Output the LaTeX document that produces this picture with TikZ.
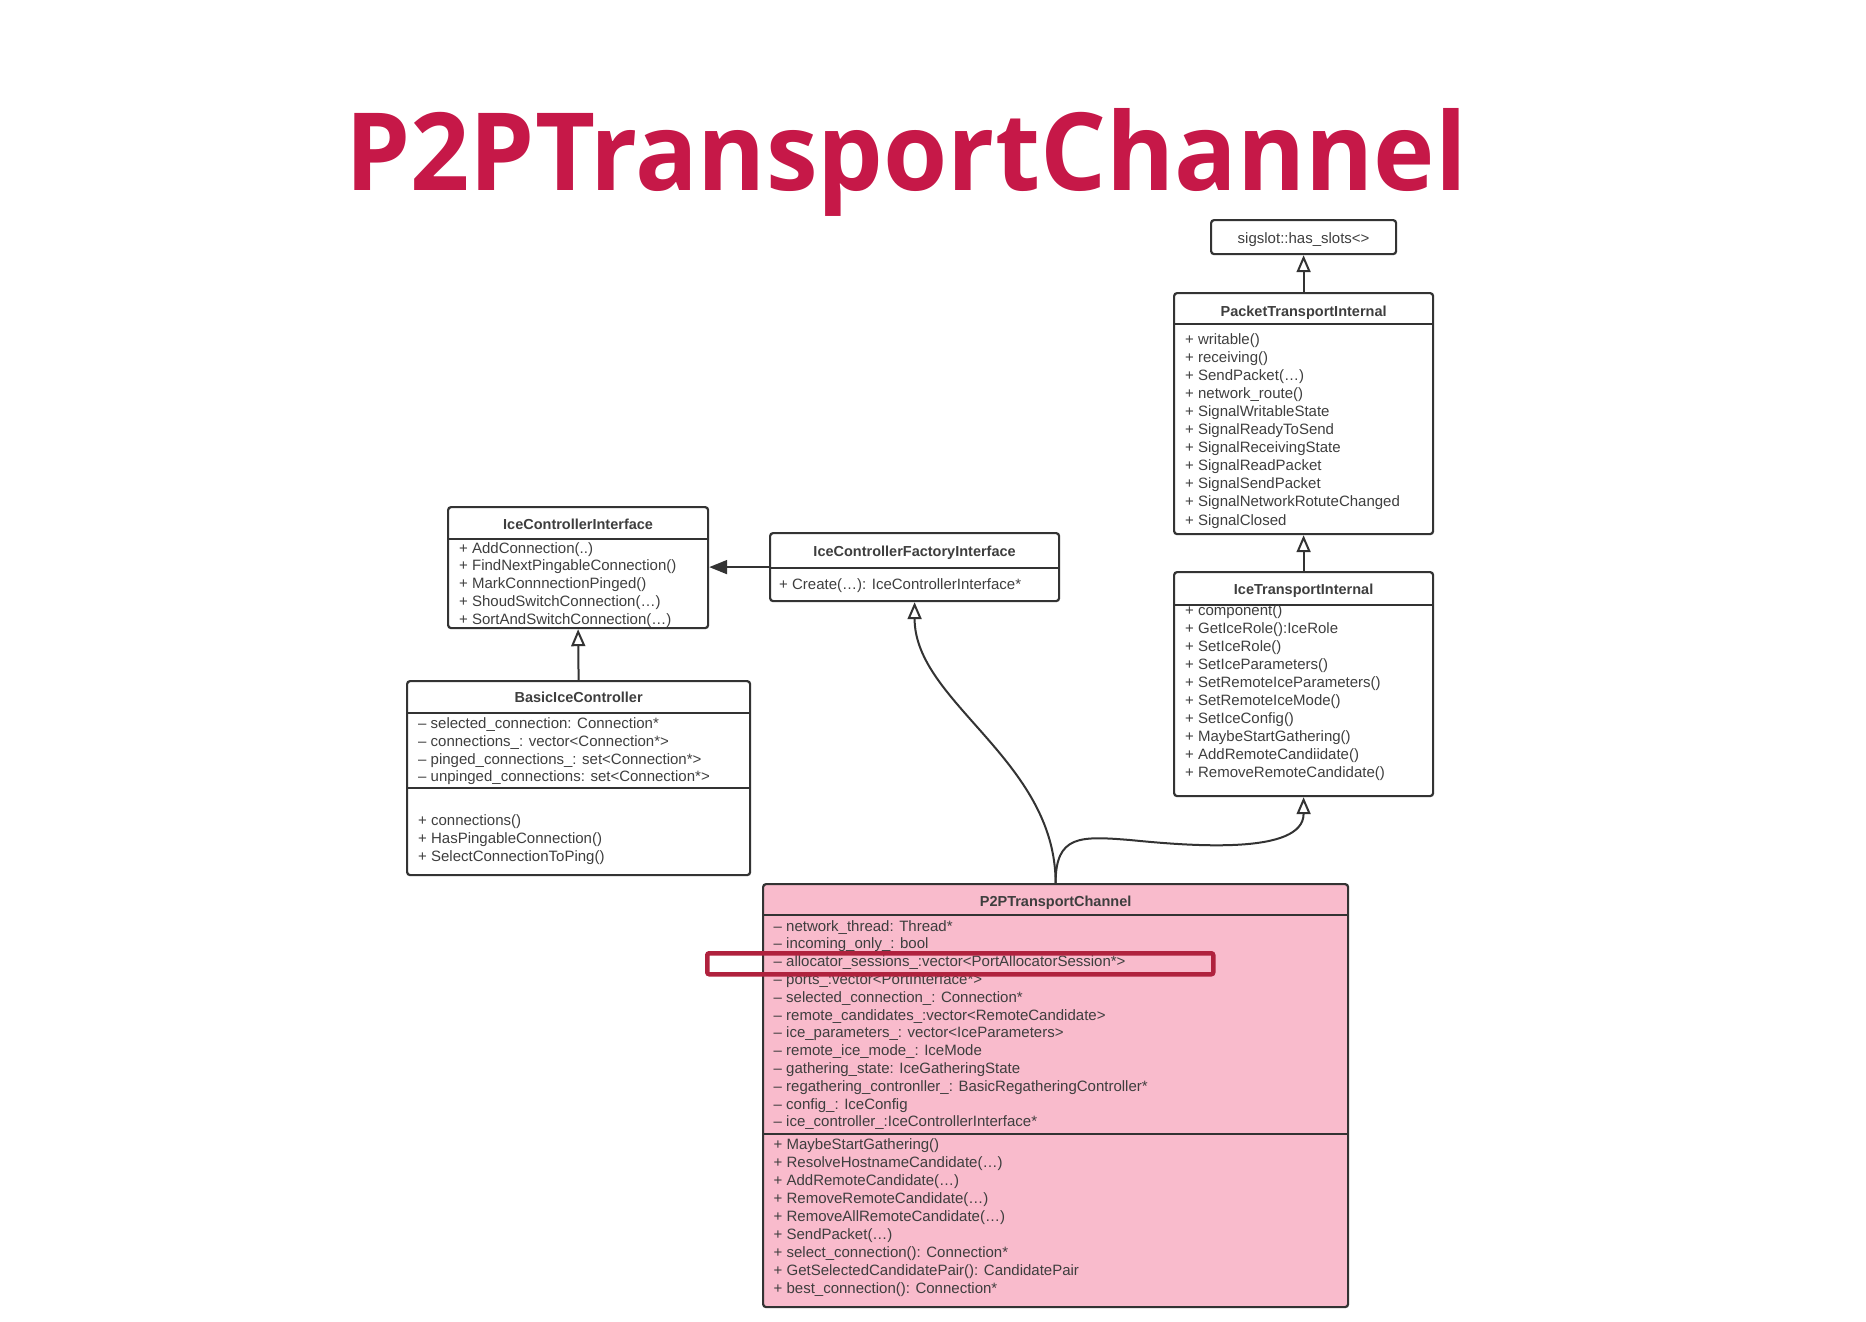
\documentclass[tikz,border=0pt]{standalone}
\usepackage{fontspec}
\setmainfont{Liberation Sans}
\newfontfamily\titlefont{Open Sans}
\usetikzlibrary{arrows.meta, positioning}

\definecolor{titlered}{RGB}{198,24,72}
\definecolor{linegray}{RGB}{51,51,51}
\definecolor{textgray}{RGB}{62,62,62}
\definecolor{channelpink}{RGB}{249,187,204}
\definecolor{markred}{RGB}{176,34,62}

\tikzset{
    classbox/.style={draw=linegray, line width=2.2pt, rounded corners=3pt, inner sep=0pt, anchor=north west},
    classname/.style={font=\bfseries\fontsize{14.5}{17}\selectfont, text=textgray, anchor=base, inner sep=0pt},
    member/.style={font=\fontsize{15}{18}\selectfont, text=textgray, anchor=base west, inner sep=0pt},
    sepline/.style={draw=linegray, line width=2.2pt},
    inherit/.style={draw=linegray, line width=2pt, -{Triangle[open, length=17pt, width=14pt, line width=2pt]}},
    assoc/.style={draw=linegray, line width=2pt, -{Triangle[length=18pt, width=14pt]}}
}

\begin{document}
\begin{tikzpicture}[x=1pt, y=-1pt]
    \useasboundingbox (0,0) rectangle (1866,1322);

    % title
    \node[font=\titlefont\bfseries\fontsize{108}{112}\selectfont, text=titlered, anchor=base west, inner sep=0pt] (title) at (345,190) {\scalebox{0.962}[1]{P2PTransportChannel}};

    % boxes
    \node[classbox, minimum width=185pt, minimum height=34pt] (sigslot) at (1210,219) {};
    \node[classbox, minimum width=259pt, minimum height=241pt] (pti) at (1173,292) {};
    \node[classbox, minimum width=259pt, minimum height=224pt] (iti) at (1173,571) {};
    \node[classbox, minimum width=260pt, minimum height=121pt] (ici) at (447,506) {};
    \node[classbox, minimum width=289pt, minimum height=68pt] (icfi) at (769,532) {};
    \node[classbox, minimum width=343pt, minimum height=194pt] (bic) at (406,680) {};
    \node[classbox, fill=channelpink, minimum width=585pt, minimum height=423pt] (p2p) at (762,883) {};

    % header lines
    \draw[sepline] ([yshift=-32pt]pti.north west) -- ([yshift=-32pt]pti.north east);
    \draw[sepline] ([yshift=-34pt]iti.north west) -- ([yshift=-34pt]iti.north east);
    \draw[sepline] ([yshift=-33pt]ici.north west) -- ([yshift=-33pt]ici.north east);
    \draw[sepline] ([yshift=-36pt]icfi.north west) -- ([yshift=-36pt]icfi.north east);
    \draw[sepline] ([yshift=-33pt]bic.north west) -- ([yshift=-33pt]bic.north east);
    \draw[sepline] ([yshift=-108pt]bic.north west) -- ([yshift=-108pt]bic.north east);
    \draw[sepline] ([yshift=-32pt]p2p.north west) -- ([yshift=-32pt]p2p.north east);
    \draw[sepline] ([yshift=-251pt]p2p.north west) -- ([yshift=-251pt]p2p.north east);

    % class names
    \node[member, anchor=base] at ([yshift=-24pt]sigslot.north) {sigslot::has\_slots<>};
    \node[classname] at ([yshift=-24pt]pti.north) {PacketTransportInternal};
    \node[classname] at ([yshift=-23pt]iti.north) {IceTransportInternal};
    \node[classname] at ([yshift=-23pt]ici.north) {IceControllerInterface};
    \node[classname] at ([yshift=-24pt]icfi.north) {IceControllerFactoryInterface};
    \node[classname] at ([yshift=-22pt]bic.north) {BasicIceController};
    \node[classname] at ([yshift=-23pt]p2p.north) {P2PTransportChannel};

    % members
    \foreach \txt [count=\i from 0] in {+ writable(), + receiving(), + SendPacket(\ldots), + network\_route(),
        + SignalWritableState, + SignalReadyToSend, + SignalReceivingState, + SignalReadPacket,
        + SignalSendPacket, + SignalNetworkRotuteChanged, + SignalClosed}
        \node[member] at (1185,{344+18.1*\i}) {\txt};

    \foreach \txt [count=\i from 0] in {+ component(), + GetIceRole():IceRole, + SetIceRole(), + SetIceParameters(),
        + SetRemoteIceParameters(), + SetRemoteIceMode(), + SetIceConfig(), + MaybeStartGathering(),
        + AddRemoteCandiidate(), + RemoveRemoteCandidate()}
        \node[member] at (1185,{615+18*\i}) {\txt};

    \foreach \txt [count=\i from 0] in {+ AddConnection(..), + FindNextPingableConnection(), + MarkConnnectionPinged(),
        + ShoudSwitchConnection(\ldots), + SortAndSwitchConnection(\ldots)}
        \node[member] at (459,{553+17.9*\i}) {\txt};

    \node[member] at (779,589) {+ Create(\ldots): IceControllerInterface*};

    \foreach \txt [count=\i from 0] in {-- selected\_connection: Connection*, -- connections\_: vector<Connection*>,
        -- pinged\_connections\_: set<Connection*>, -- unpinged\_connections: set<Connection*>}
        \node[member] at (418,{728.5+17.8*\i}) {\txt};
    \foreach \txt [count=\i from 0] in {+ connections(), + HasPingableConnection(), + SelectConnectionToPing()}
        \node[member] at (418,{825+18*\i}) {\txt};

    \foreach \txt [count=\i from 0] in {-- network\_thread: Thread*, -- incoming\_only\_: bool,
        -- allocator\_sessions\_:vector<PortAllocatorSession*>, -- ports\_:vector<PortInterface*>,
        -- selected\_connection\_: Connection*, -- remote\_candidates\_:vector<RemoteCandidate>,
        -- ice\_parameters\_: vector<IceParameters>, -- remote\_ice\_mode\_: IceMode,
        -- gathering\_state: IceGatheringState, -- regathering\_contronller\_: BasicRegatheringController*,
        -- config\_: IceConfig, -- ice\_controller\_:IceControllerInterface*}
        \node[member] at (773.5,{931+17.8*\i}) {\txt};
    \foreach \txt [count=\i from 0] in {+ MaybeStartGathering(), + ResolveHostnameCandidate(\ldots),
        + AddRemoteCandidate(\ldots), + RemoveRemoteCandidate(\ldots), + RemoveAllRemoteCandidate(\ldots),
        + SendPacket(\ldots), + select\_connection(): Connection*, + GetSelectedCandidatePair(): CandidatePair,
        + best\_connection(): Connection*}
        \node[member] at (773.5,{1149+18*\i}) {\txt};

    % highlight
    \node[draw=markred, line width=4.5pt, rounded corners=2pt, inner sep=0pt, anchor=north west,
        minimum width=506pt, minimum height=21pt] (mark) at (705,951) {};

    % connectors
    \draw[inherit] (pti.north) -- (sigslot.south);
    \draw[inherit] (iti.north) -- (pti.south);
    \draw[inherit] (bic.north) -- (ici.south);
    \draw[assoc] (icfi.west) -- (icfi.west -| ici.east);
    \draw[inherit] (p2p.north) .. controls +(0,-123) and +(0,100) .. (icfi.south);
    \coordinate (dip) at (1130,840);
    \draw[inherit] (p2p.north) .. controls +(0,-48) and (1080,836) .. (dip)
        .. controls (1190,846) and ([yshift=-58pt]iti.south) .. (iti.south);
\end{tikzpicture}
\end{document}
